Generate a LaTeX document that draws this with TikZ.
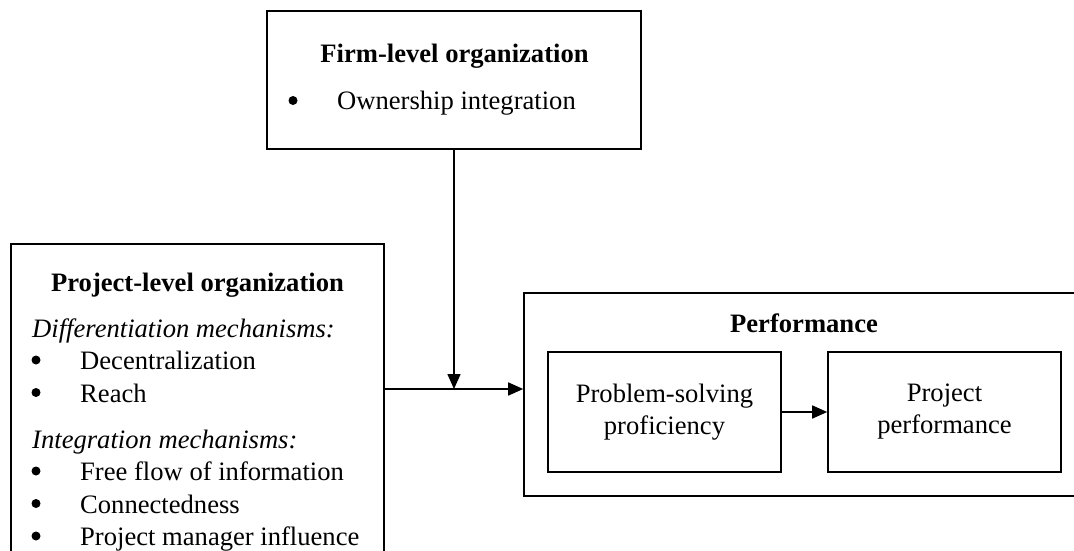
\documentclass[tikz,border=0pt]{standalone}
\usepackage{fontspec}
\setmainfont{Liberation Serif}
\usetikzlibrary{arrows.meta}
\begin{document}
\begin{tikzpicture}[x=1pt,y=-1pt,
  box/.style={draw, line width=1.6pt, inner sep=0pt},
  txt/.style={anchor=base west, inner sep=0pt, font=\fontsize{26.6}{32}\selectfont},
  head/.style={anchor=base, inner sep=0pt, font=\fontsize{26.6}{32}\selectfont\bfseries},
  dot/.style={circle, fill, inner sep=0pt, minimum size=9pt},
  arr/.style={line width=1.6pt, -{Triangle[length=15pt,width=13pt]}},
  inner/.style={box, minimum width=233pt, minimum height=120pt, align=center,
    font=\fontsize{26.6}{32}\selectfont}
]
\clip (0,0) rectangle (1074,551);
\fill[white] (0,0) rectangle (1074,551);

% boxes
\node[box, minimum width=374pt, minimum height=138pt] (firm) at (454,80) {};
\node[box, minimum width=373pt, minimum height=326pt] (proj) at (197.5,407) {};
\node[box, minimum width=560pt, minimum height=203pt] (perf) at (804,394.5) {};
\node[inner] (ps) at (664.5,412) {Problem-solving\\proficiency};
\node[inner] (pp) at (944.5,412) {Project\\performance};

% firm-level text
\node[head] (firmtitle) at (454.5,63) {Firm-level organization};
\node[dot] (fb1) at (293,100.5) {};
\node[txt] (own) at (337,110) {Ownership integration};

% project-level text
\node[head] (projtitle) at (197.5,291) {Project-level organization};
\node[txt, font=\fontsize{26.6}{32}\selectfont\itshape] (diff) at (32,337) {Differentiation mechanisms:};
\node[dot] (pb1) at (36,360) {};
\node[txt] (dec) at (80,369.5) {Decentralization};
\node[dot] (pb2) at (36,392.5) {};
\node[txt] (reach) at (80,402) {Reach};
\node[txt, font=\fontsize{26.6}{32}\selectfont\itshape] (integ) at (32,448) {Integration mechanisms:};
\node[dot] (pb3) at (36,471) {};
\node[txt] (free) at (80,480.5) {Free flow of information};
\node[dot] (pb4) at (36,503.5) {};
\node[txt] (conn) at (80,513) {Connectedness};
\node[dot] (pb5) at (36,536) {};
\node[txt] (pm) at (80,545.5) {Project manager influence};

% performance title
\node[head] (perftitle) at (804,332) {Performance};

% connectors
\coordinate (join) at (firm.south |- 0,389);
\draw[line width=1.6pt] (proj.east |- join) -- (join);
\draw[arr] (join) -- (perf.west |- join);
\draw[arr] (firm.south) -- (join);
\draw[arr] (ps) -- (pp);
\end{tikzpicture}
\end{document}
